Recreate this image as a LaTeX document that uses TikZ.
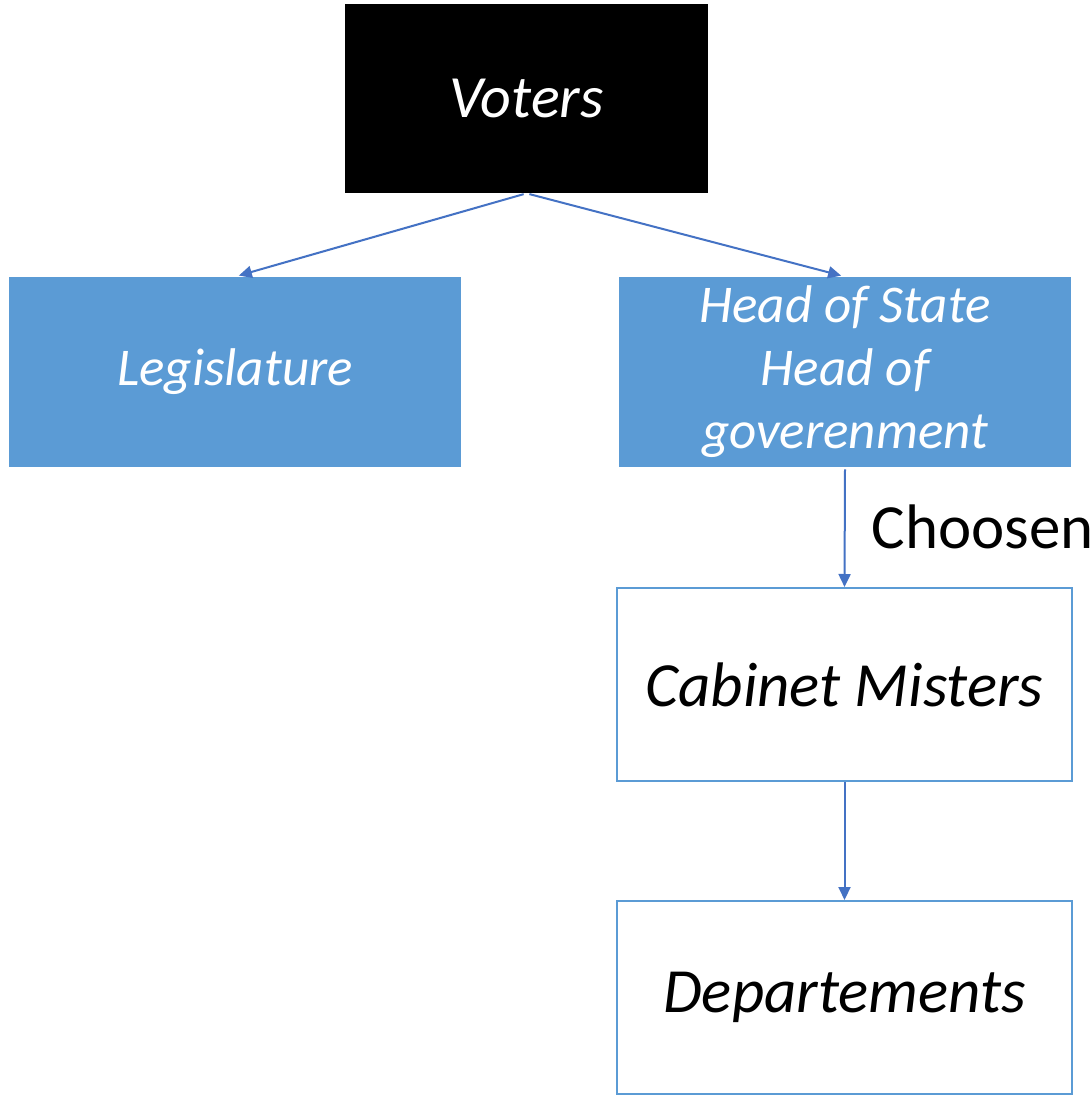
\documentclass[tikz,border=0pt]{standalone}
\usepackage{fontspec}
\setmainfont{Carlito}
\usetikzlibrary{arrows.meta}
\definecolor{BoxBlue}{RGB}{91,155,213}
\definecolor{LineBlue}{RGB}{68,114,196}

\begin{document}
\begin{tikzpicture}[
    filled/.style={fill=BoxBlue,text=white,minimum width=9.04cm,minimum height=3.8cm,align=center,font=\fontsize{30.2}{35.8}\selectfont\itshape},
    framed/.style={draw=BoxBlue,line width=0.04cm,fill=white,minimum width=9.1cm,minimum height=3.86cm,font=\fontsize{35.8}{43}\selectfont\itshape},
    link/.style={draw=LineBlue,line width=0.04cm,-{Triangle[length=2.6mm,width=2.4mm]}}]
          \useasboundingbox (0,0) rectangle (21.82,-21.92);
          \node[fill=black,text=white,minimum width=7.26cm,minimum height=3.78cm,font=\fontsize{34.1}{41}\selectfont\itshape] (voters) at (10.53,-1.97) {Voters};
          \node[filled] (legis) at (4.70,-7.44) {Legislature};
          \node[filled] (head) at (16.90,-7.44) {Head of State\\Head of\\goverenment};
          \node[framed] (cabinet) at (16.89,-13.69) {Cabinet Misters};
          \node[framed] (depts) at (16.89,-19.95) {Departements};
          \draw[link,shorten <=0.06cm,shorten >=0.08cm] (voters.south) -- (legis.north);
          \draw[link,shorten <=0.06cm,shorten >=0.08cm] (voters.south) -- (head.north);
          \draw[link,shorten <=0.04cm] (head.south) -- (cabinet.north) node[midway,right=0.4cm,font=\fontsize{35.8}{43}\selectfont] (chosen) {Choosen};
          \draw[link] (cabinet.south) -- (depts.north);
        \end{tikzpicture}
\end{document}
